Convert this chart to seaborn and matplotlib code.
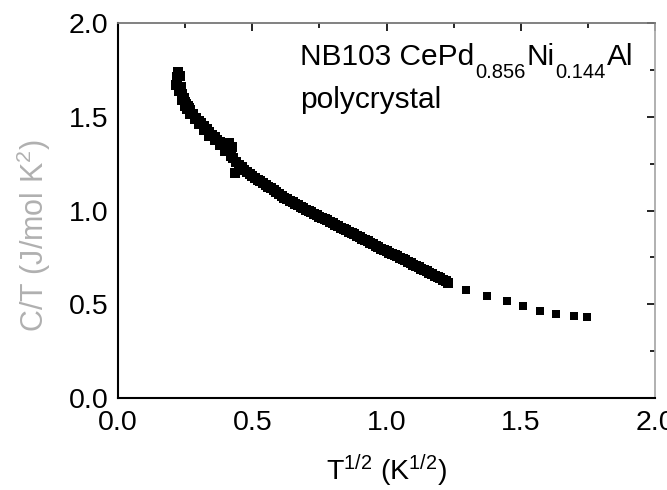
import matplotlib
matplotlib.use("Agg")
import matplotlib.pyplot as plt
from matplotlib.ticker import MultipleLocator
import seaborn as sns
import pandas as pd

t_sqrt_dense = [0.215, 0.22, 0.225, 0.23, 0.235, 0.24, 0.245, 0.25, 0.255, 0.26,
                0.265, 0.27, 0.28, 0.29, 0.30, 0.31, 0.32, 0.33, 0.34, 0.35,
                0.36, 0.37, 0.38, 0.39, 0.40, 0.405, 0.41, 0.415, 0.42, 0.425,
                0.43, 0.435, 0.44, 0.45, 0.46, 0.47, 0.48, 0.49,
                0.50, 0.51, 0.52, 0.53, 0.54, 0.55, 0.56, 0.57, 0.58, 0.59,
                0.60, 0.61, 0.62, 0.63, 0.64, 0.65, 0.66, 0.67, 0.68, 0.69,
                0.70, 0.71, 0.72, 0.73, 0.74, 0.75, 0.76, 0.77, 0.78, 0.79,
                0.80, 0.81, 0.82, 0.83, 0.84, 0.85, 0.86, 0.87, 0.88, 0.89,
                0.90, 0.91, 0.92, 0.93, 0.94, 0.95, 0.96, 0.97, 0.98, 0.99,
                1.00, 1.01, 1.02, 1.03, 1.04, 1.05, 1.06, 1.07, 1.08, 1.09,
                1.10, 1.11, 1.12, 1.13, 1.14, 1.15, 1.16, 1.17, 1.18, 1.19,
                1.20, 1.21, 1.22, 1.23,
                # scatter on the lower side of the low-temperature band
                0.228, 0.238, 0.248, 0.258, 0.27, 0.285, 0.30, 0.32, 0.34,
                0.36, 0.38, 0.40, 0.42]
ct_dense = [1.67, 1.71, 1.74, 1.72, 1.66, 1.62, 1.60, 1.58, 1.57, 1.56,
            1.545, 1.535, 1.515, 1.495, 1.48, 1.465, 1.45, 1.435, 1.42, 1.405,
            1.39, 1.378, 1.365, 1.35, 1.335, 1.33, 1.32, 1.36, 1.31, 1.34,
            1.28, 1.20, 1.26, 1.245, 1.23, 1.215, 1.205, 1.193,
            1.183, 1.173, 1.164, 1.155, 1.146, 1.137, 1.128, 1.118, 1.108, 1.098,
            1.088, 1.078, 1.068, 1.06, 1.052, 1.044, 1.036, 1.028, 1.02, 1.012,
            1.005, 0.997, 0.99, 0.982, 0.975, 0.968, 0.961, 0.954, 0.947, 0.94,
            0.932, 0.924, 0.916, 0.909, 0.902, 0.895, 0.888, 0.88, 0.873, 0.865,
            0.858, 0.85, 0.843, 0.835, 0.828, 0.82, 0.812, 0.804, 0.797, 0.79,
            0.783, 0.776, 0.769, 0.762, 0.755, 0.748, 0.742, 0.735, 0.728, 0.72,
            0.712, 0.705, 0.697, 0.69, 0.683, 0.675, 0.668, 0.66, 0.653, 0.645,
            0.638, 0.63, 0.623, 0.615,
            1.64, 1.59, 1.56, 1.54, 1.515, 1.49, 1.46, 1.43, 1.40,
            1.375, 1.35, 1.32, 1.29]

# sparse high-temperature points
t_sqrt_sparse = [1.295, 1.373, 1.45, 1.507, 1.571, 1.63, 1.70, 1.746]
ct_sparse = [0.576, 0.544, 0.517, 0.49, 0.464, 0.448, 0.437, 0.432]

x_ticks = [0.0, 0.5, 1.0, 1.5, 2.0]
y_ticks = [0.0, 0.5, 1.0, 1.5, 2.0]

sns.set_style("white")
plt.rcParams['font.family'] = ['Liberation Sans', 'DejaVu Sans']
plt.rcParams['mathtext.fontset'] = 'custom'
plt.rcParams['mathtext.rm'] = 'Liberation Sans'
plt.rcParams['mathtext.it'] = 'Liberation Sans'
plt.rcParams['mathtext.default'] = 'regular'

W, H = 667, 490
fig = plt.figure(figsize=(W / 100, H / 100), dpi=100)
ax = fig.add_axes([118 / W, 1 - 398 / H, (655 - 118) / W, (398 - 23) / H])

df_dense = pd.DataFrame({"x": t_sqrt_dense, "y": ct_dense})
df_sparse = pd.DataFrame({"x": t_sqrt_sparse, "y": ct_sparse})
sns.scatterplot(data=df_dense, x="x", y="y", marker="s", s=48, color="black",
                linewidth=0, ax=ax)
sns.scatterplot(data=df_sparse, x="x", y="y", marker="s", s=33, color="black",
                linewidth=0, ax=ax)

ax.set_xlim(0, 2.0)
ax.set_ylim(0, 2.0)
ax.set_xticks(x_ticks)
ax.set_yticks(y_ticks)
ax.set_xticklabels([f"{v:.1f}" for v in x_ticks])
ax.set_yticklabels([f"{v:.1f}" for v in y_ticks])
ax.xaxis.set_minor_locator(MultipleLocator(0.25))
ax.yaxis.set_minor_locator(MultipleLocator(0.25))
ax.tick_params(which='both', direction='in', top=True, right=True,
               labeltop=False, labelright=False, width=1.2, colors='black')
ax.tick_params(axis='x', which='major', length=6, pad=8.5, labelsize=20.5)
ax.tick_params(axis='y', which='major', length=6, pad=7, labelsize=20.5)
ax.tick_params(which='minor', length=3.5)

for side in ['left', 'bottom']:
    ax.spines[side].set_color('black')
    ax.spines[side].set_linewidth(1.5)
ax.spines['top'].set_color('#777777')
ax.spines['top'].set_linewidth(1.3)
ax.spines['right'].set_color('#aaaaaa')
ax.spines['right'].set_linewidth(1.3)

ax.set_xlabel("T$^{1/2}$ (K$^{1/2}$)", fontsize=20.5, color='black')
ax.set_ylabel("C/T (J/mol K$^{2}$)", fontsize=22, color='#b0b0b0')
ax.xaxis.set_label_coords(0.5, -0.146)
ax.yaxis.set_label_coords(-0.121, 0.432)

# annotation with manually placed subscripts
fig.canvas.draw()
renderer = fig.canvas.get_renderer()
main_size, sub_size = 21.5, 14.5
x_px = 300
base_y = H - 65
sub_y = H - 78
pieces = [("NB103 CePd", main_size, base_y), ("0.856", sub_size, sub_y),
          ("Ni", main_size, base_y), ("0.144", sub_size, sub_y),
          ("Al", main_size, base_y)]
for txt, size, yb in pieces:
    t = fig.text(x_px / W, yb / H, txt, fontsize=size, color='black',
                 ha='left', va='baseline')
    bb = t.get_window_extent(renderer)
    x_px = bb.x1 + 1
fig.text(300 / W, (H - 108) / H, "polycrystal", fontsize=main_size,
         color='black', ha='left', va='baseline')

fig.savefig("out.png", dpi=100)
